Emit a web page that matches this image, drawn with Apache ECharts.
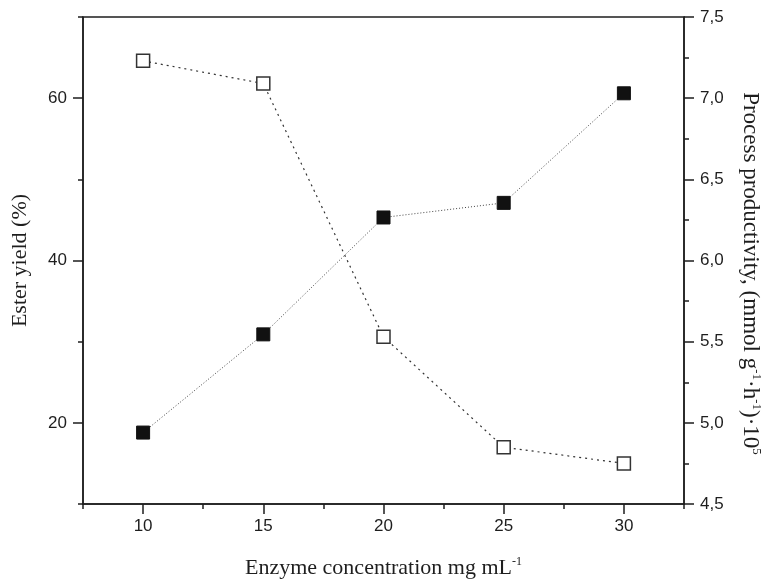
<!DOCTYPE html>
<html><head><meta charset="utf-8">
<script src="https://cdn.jsdelivr.net/npm/echarts@6/dist/echarts.min.js"></script>
<style>html,body{margin:0;padding:0;background:#fff}#c{width:766px;height:584px}</style>
</head><body><div id="c"></div>
<script>
// Data
const enzyme = [10, 15, 20, 25, 30];
const esterYield = [18.8, 30.9, 45.3, 47.1, 60.6];        // filled squares, left axis (%)
const productivity = [7.23, 7.09, 5.53, 4.85, 4.75];      // open squares, right axis
// Ticks
const xMajorTicks = [10, 15, 20, 25, 30];
const xMinorTicks = [7.5, 12.5, 17.5, 22.5, 27.5, 32.5];
const yLeftMajorTicks = [20, 40, 60];
const yLeftMinorTicks = [10, 30, 50, 70];

const INK = '#1e1e1e';
const sans = '"Liberation Sans", Arial, sans-serif';
const serif = '"Liberation Serif", "Times New Roman", serif';
const labelStyle = {color: INK, fontFamily: sans, fontSize: 17};
const nameRich = {
  n: {fontFamily: serif, fontSize: 22, color: INK, lineHeight: 25},
  s: {fontFamily: serif, fontSize: 12, color: INK, lineHeight: 12, verticalAlign: 'top'}
};
const nameRichR = {
  n: {fontFamily: serif, fontSize: 23, color: INK, lineHeight: 25},
  s: {fontFamily: serif, fontSize: 13, color: INK, lineHeight: 12, verticalAlign: 'top'}
};
const lineW = {color: INK, width: 1.5};

const chart = echarts.init(document.getElementById('c'), null, {renderer: 'canvas'});
chart.setOption({
  animation: false,
  backgroundColor: '#fff',
  grid: {left: 83, right: 82, top: 17, bottom: 80, outerBoundsMode: 'none', containLabel: false,
         show: true, borderColor: INK, borderWidth: 1.5, backgroundColor: 'transparent'},
  xAxis: [{
    type: 'value', min: 7.5, max: 32.5, position: 'bottom',
    axisLine: {show: true, lineStyle: lineW},
    axisTick: {show: true, inside: false, length: 10, lineStyle: lineW, customValues: xMajorTicks},
    axisLabel: {...labelStyle, margin: 14, customValues: xMajorTicks},
    splitLine: {show: false},
    name: '{n|Enzyme concentration mg mL}{s|-1}', nameLocation: 'middle', nameGap: 52,
    nameTextStyle: {rich: nameRich}
  }, {
    type: 'value', min: 7.5, max: 32.5, position: 'bottom', gridIndex: 0,
    axisLine: {show: false},
    axisTick: {show: true, inside: false, length: 5, lineStyle: lineW, customValues: xMinorTicks},
    axisLabel: {show: false},
    splitLine: {show: false}
  }],
  yAxis: [{
    type: 'value', min: 10, max: 70, position: 'left',
    axisLine: {show: true, lineStyle: lineW},
    axisTick: {show: true, inside: false, length: 10, lineStyle: lineW, customValues: yLeftMajorTicks},
    axisLabel: {...labelStyle, margin: 16, customValues: yLeftMajorTicks},
    splitLine: {show: false},
    name: '{n|Ester yield (%)}', nameLocation: 'middle', nameRotate: 90, nameGap: 50,
    nameTextStyle: {rich: nameRich}
  }, {
    type: 'value', min: 10, max: 70, position: 'left',
    axisLine: {show: false},
    axisTick: {show: true, inside: false, length: 5, lineStyle: lineW, customValues: yLeftMinorTicks},
    axisLabel: {show: false},
    splitLine: {show: false}
  }, {
    type: 'value', min: 4.5, max: 7.5, interval: 0.5, position: 'right',
    axisLine: {show: true, lineStyle: lineW},
    axisTick: {show: true, inside: false, length: 10, lineStyle: lineW},
    minorTick: {show: true, splitNumber: 2, length: 5, lineStyle: lineW},
    axisLabel: {...labelStyle, margin: 16, formatter: v => v.toFixed(1).replace('.', ',')},
    splitLine: {show: false},
    name: '{n|Process productivity, (mmol g}{s|-1}{n|·h}{s|-1}{n|)·10}{s|5}',
    nameLocation: 'middle', nameRotate: -90, nameGap: 54,
    nameTextStyle: {rich: nameRichR, padding: [0, 0, 0, 26]}
  }],
  series: [{
    type: 'line', name: 'Ester yield', xAxisIndex: 0, yAxisIndex: 0,
    data: enzyme.map((x, i) => [x, esterYield[i]]),
    symbol: 'rect', symbolSize: 13,
    itemStyle: {color: '#111', borderColor: '#111', borderWidth: 1},
    lineStyle: {color: '#444', width: 1, type: [1, 2]},
    z: 3
  }, {
    type: 'line', name: 'Productivity', xAxisIndex: 0, yAxisIndex: 2,
    data: enzyme.map((x, i) => [x, productivity[i]]),
    symbol: 'rect', symbolSize: 13,
    itemStyle: {color: '#fff', borderColor: '#333', borderWidth: 1.5},
    lineStyle: {color: '#333', width: 1.2, type: [2, 4]},
    z: 3
  }]
});
</script>
</body></html>
